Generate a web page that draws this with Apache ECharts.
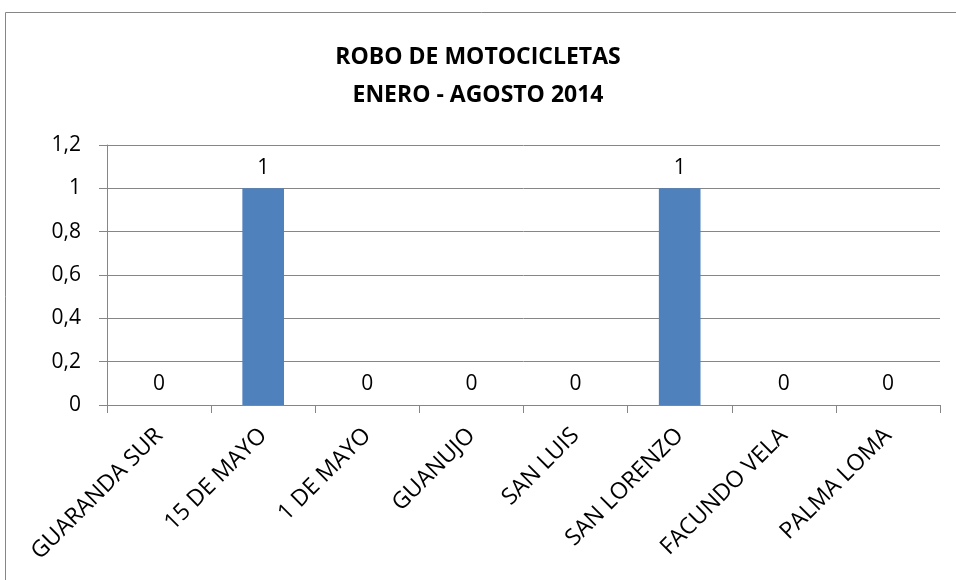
<!DOCTYPE html>
<html>
<head>
<meta charset="utf-8">
<script src="https://cdn.jsdelivr.net/npm/echarts@6/dist/echarts.min.js"></script>
<style>
html,body{margin:0;padding:0;background:#fff;}
#chart{width:956px;height:580px;}
</style>
</head>
<body>
<div id="chart"></div>
<script>
// barrios y robos de motocicletas
var barrios = ['GUARANDA SUR', '15 DE MAYO', '1 DE MAYO', 'GUANUJO', 'SAN LUIS', 'SAN LORENZO', 'FACUNDO VELA', 'PALMA LOMA'];
var robos = [0, 1, 0, 0, 0, 1, 0, 0];
var tituloLineas = ['ROBO DE MOTOCICLETAS', 'ENERO - AGOSTO 2014'];

var fuente = '"Open Sans", "Liberation Sans", sans-serif';
var gris = '#868686';

var myChart = echarts.init(document.getElementById('chart'));

myChart.setOption({
    backgroundColor: '#fff',
    animation: false,
    textStyle: {fontFamily: fuente, color: '#000'},
    title: {
        text: tituloLineas.join('\n'),
        left: 'center',
        top: 33,
        textStyle: {fontSize: 23, fontWeight: 'bold', color: '#000', lineHeight: 38, fontFamily: fuente}
    },
    graphic: [{
        type: 'rect',
        shape: {x: 5.5, y: 12.5, width: 1000, height: 1000},
        style: {fill: 'none', stroke: gris, lineWidth: 1}
    }],
    grid: {left: 107, right: 16, top: 145, bottom: 175},
    xAxis: {
        type: 'category',
        data: barrios,
        boundaryGap: true,
        axisLine: {lineStyle: {color: gris}},
        axisTick: {show: true, length: 8, lineStyle: {color: gris}},
        axisLabel: {rotate: 45, fontSize: 23, color: '#000', margin: 27, fontFamily: fuente}
    },
    yAxis: {
        type: 'value',
        min: 0,
        max: 1.2,
        interval: 0.2,
        axisLine: {show: true, lineStyle: {color: gris}},
        axisTick: {show: true, length: 8, lineStyle: {color: gris}},
        splitLine: {lineStyle: {color: gris}},
        axisLabel: {
            fontSize: 21, color: '#000', margin: 26, fontFamily: fuente,
            formatter: function (v) { return String(Number(v.toFixed(1))).replace('.', ','); }
        }
    },
    series: [{
        type: 'bar',
        data: robos,
        barWidth: '40%',
        itemStyle: {color: '#4f81bd'},
        label: {show: true, position: 'top', distance: 10, fontSize: 21, color: '#000', fontFamily: fuente}
    }]
});
</script>
</body>
</html>
